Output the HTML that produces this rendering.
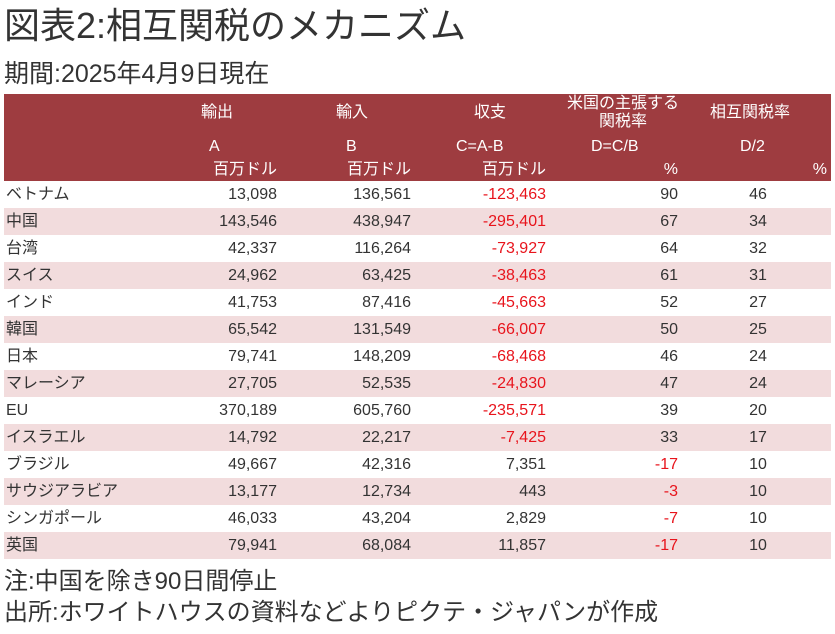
<!DOCTYPE html>
<html><head><meta charset="utf-8"><style>
body{margin:0;width:835px;height:634px;background:#fff;font-family:"Liberation Sans","Noto Sans CJK JP",sans-serif;color:#333;position:relative;overflow:hidden}
.t{position:absolute;white-space:nowrap}
#hdr{position:absolute;left:4px;top:94px;width:827px;height:87px;background:#9e3c40}
.h{position:absolute;color:#fff;font-size:16px;white-space:nowrap;line-height:18px}
.row{position:absolute;left:4px;width:827px;height:27px;font-size:16px;line-height:27px}
.row.alt{background:#f2dcdd}
.c{position:absolute;top:0;white-space:nowrap}
.neg{color:#e8141c}
</style></head><body>
<div class="t" style="left:4px;top:4px;font-size:36px;line-height:44px;color:#333;letter-spacing:0px">図表2:相互関税のメカニズム</div>
<div class="t" style="left:4px;top:58px;font-size:25px;line-height:32px">期間:2025年4月9日現在</div>
<div id="hdr">
<div class="h" style="left:197px;top:10px">輸出</div>
<div class="h" style="left:332px;top:10px">輸入</div>
<div class="h" style="left:470px;top:10px">収支</div>
<div class="h" style="left:554px;top:1px;width:130px;text-align:center">米国の主張する<br>関税率</div>
<div class="h" style="left:706px;top:10px">相互関税率</div>
<div class="h" style="left:205px;top:44px">A</div>
<div class="h" style="left:342px;top:44px">B</div>
<div class="h" style="left:452px;top:44px">C=A-B</div>
<div class="h" style="left:587px;top:44px">D=C/B</div>
<div class="h" style="left:736px;top:44px">D/2</div>
<div class="h" style="right:554px;top:67px">百万ドル</div>
<div class="h" style="right:420px;top:67px">百万ドル</div>
<div class="h" style="right:285px;top:67px">百万ドル</div>
<div class="h" style="right:153px;top:67px">%</div>
<div class="h" style="right:4px;top:67px">%</div>
</div>
<div id="rows"></div>
<div class="t" style="left:4px;top:567px;font-size:24px;line-height:30px">注:中国を除き90日間停止</div>
<div class="t" style="left:4px;top:598px;font-size:24px;line-height:30px">出所:ホワイトハウスの資料などよりピクテ・ジャパンが作成</div>
<script>
const countries=["ベトナム","中国","台湾","スイス","インド","韓国","日本","マレーシア","EU","イスラエル","ブラジル","サウジアラビア","シンガポール","英国"];
const exportsA=[13098,143546,42337,24962,41753,65542,79741,27705,370189,14792,49667,13177,46033,79941];
const importsB=[136561,438947,116264,63425,87416,131549,148209,52535,605760,22217,42316,12734,43204,68084];
const balanceC=[-123463,-295401,-73927,-38463,-45663,-66007,-68468,-24830,-235571,-7425,7351,443,2829,11857];
const claimedD=[90,67,64,61,52,50,46,47,39,33,-17,-3,-7,-17];
const reciprocal=[46,34,32,31,27,25,24,24,20,17,10,10,10,10];
const fmt=v=>(v<0?"-":"")+Math.abs(v).toLocaleString("en-US");
const R=document.getElementById("rows");
countries.forEach((n,i)=>{
 const r=document.createElement("div");
 r.className="row"+(i%2?" alt":"");
 r.style.top=(181+i*27)+"px";
 
 
 const cells=[[n,"left:2px",0,'country'],[fmt(exportsA[i]),"right:554px",0,'export'],[fmt(importsB[i]),"right:420px",0,'import'],[fmt(balanceC[i]),"right:285px",balanceC[i]<0,'balance'],[fmt(claimedD[i]),"right:153px",claimedD[i]<0,'claimed-rate']];
 cells.forEach(c=>{
  const d=document.createElement("div");
  d.className="c"+(c[2]?" neg":"");
  d.style.cssText=c[1];
  d.textContent=c[0];
  
  
  r.appendChild(d);
 });
 const e=document.createElement("div");
 e.className="c";
 e.style.cssText="left:714px;width:80px;text-align:center";
 e.textContent=reciprocal[i];
 
 
 r.appendChild(e);
 R.appendChild(r);
});
</script>
</body></html>
